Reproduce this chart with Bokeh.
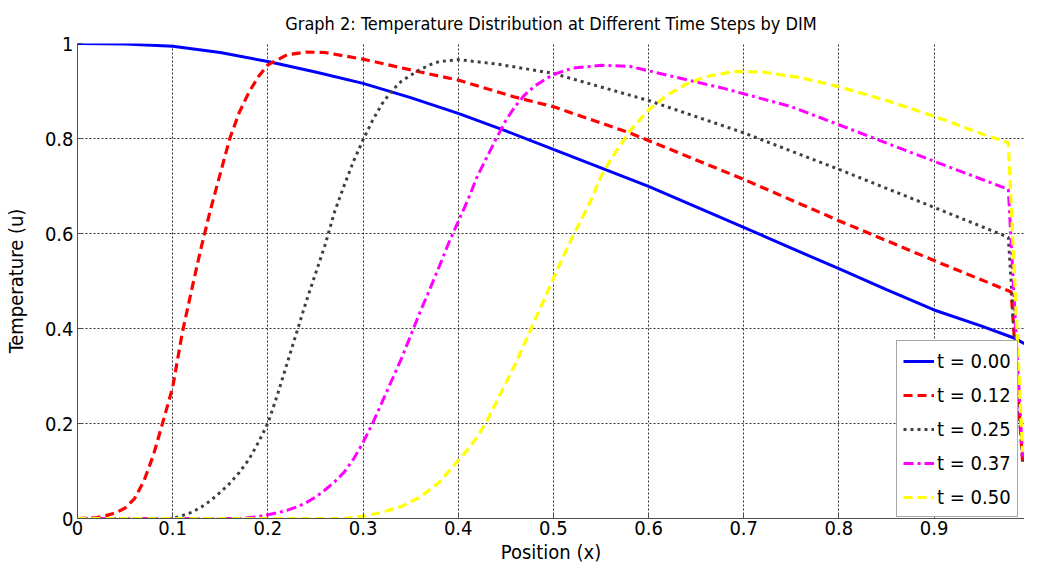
from bokeh.plotting import figure
from bokeh.models import Range1d, FixedTicker, Legend, LegendItem
from bokeh.embed import file_html
from bokeh.resources import INLINE

FONT = "'DejaVu Sans Condensed', 'Liberation Sans Narrow', sans-serif"

title_text = "Graph 2: Temperature Distribution at Different Time Steps by DIM"
x_label = "Position (x)"
y_label = "Temperature (u)"

series_labels = ["t = 0.00", "t = 0.12", "t = 0.25", "t = 0.37", "t = 0.50"]

x_t000 = [0, 0.05, 0.1, 0.15, 0.2, 0.25, 0.3, 0.35, 0.4, 0.45, 0.5, 0.55, 0.6, 0.65, 0.7,
          0.75, 0.8, 0.85, 0.9, 0.95, 0.984, 0.995]
u_t000 = [1.0, 0.999, 0.994, 0.981, 0.962, 0.94, 0.916, 0.886, 0.853, 0.816, 0.777, 0.738,
          0.699, 0.656, 0.613, 0.569, 0.526, 0.482, 0.439, 0.405, 0.38, 0.368]

x_t012 = [0, 0.02, 0.03, 0.04, 0.05, 0.06, 0.07, 0.08, 0.09, 0.1, 0.11, 0.12, 0.13, 0.14,
          0.15, 0.16, 0.17, 0.18, 0.19, 0.2, 0.22, 0.24, 0.26, 0.3, 0.36, 0.4, 0.46, 0.5,
          0.58, 0.7, 0.8, 0.9, 0.981, 0.993]
u_t012 = [0, 0.002, 0.006, 0.012, 0.022, 0.042, 0.08, 0.135, 0.205, 0.276, 0.39, 0.482,
          0.571, 0.652, 0.726, 0.80, 0.855, 0.897, 0.93, 0.955, 0.976, 0.982, 0.981, 0.967,
          0.94, 0.923, 0.887, 0.867, 0.812, 0.714, 0.627, 0.543, 0.477, 0.12]

x_t025 = [0, 0.1, 0.11, 0.12, 0.13, 0.14, 0.15, 0.16, 0.17, 0.18, 0.19, 0.2, 0.21, 0.22,
          0.23, 0.24, 0.25, 0.26, 0.27, 0.28, 0.29, 0.3, 0.31, 0.32, 0.33, 0.34, 0.35, 0.36,
          0.37, 0.38, 0.4, 0.44, 0.5, 0.6, 0.7, 0.8, 0.9, 0.978, 0.993]
u_t025 = [0, 0.0, 0.006, 0.013, 0.024, 0.038, 0.055, 0.074, 0.097, 0.124, 0.16, 0.2, 0.26,
          0.325, 0.39, 0.455, 0.515, 0.575, 0.645, 0.70, 0.752, 0.797, 0.838, 0.873, 0.9,
          0.92, 0.933, 0.945, 0.955, 0.962, 0.966, 0.957, 0.937, 0.88, 0.812, 0.735, 0.655,
          0.592, 0.12]

x_t037 = [0, 0.17, 0.19, 0.2, 0.21, 0.22, 0.23, 0.24, 0.25, 0.26, 0.27, 0.28, 0.29, 0.3,
          0.31, 0.32, 0.33, 0.34, 0.35, 0.36, 0.37, 0.38, 0.39, 0.4, 0.41, 0.42, 0.43, 0.44,
          0.45, 0.46, 0.47, 0.48, 0.5, 0.52, 0.55, 0.58, 0.62, 0.68, 0.75, 0.8, 0.9, 0.978,
          0.993]
u_t037 = [0, 0.0, 0.004, 0.008, 0.012, 0.017, 0.024, 0.033, 0.045, 0.06, 0.077, 0.097,
          0.125, 0.16, 0.2, 0.245, 0.29, 0.335, 0.385, 0.435, 0.482, 0.53, 0.58, 0.625, 0.67,
          0.72, 0.76, 0.8, 0.838, 0.868, 0.892, 0.91, 0.935, 0.948, 0.954, 0.952, 0.933,
          0.905, 0.867, 0.829, 0.752, 0.693, 0.13]

x_t050 = [0, 0.28, 0.3, 0.32, 0.34, 0.36, 0.38, 0.4, 0.41, 0.42, 0.43, 0.44, 0.45, 0.46,
          0.47, 0.48, 0.49, 0.5, 0.51, 0.52, 0.53, 0.54, 0.55, 0.56, 0.57, 0.58, 0.6, 0.62,
          0.64, 0.66, 0.69, 0.72, 0.76, 0.8, 0.85, 0.9, 0.95, 0.978, 0.993]
u_t050 = [0, 0, 0.005, 0.013, 0.025, 0.045, 0.076, 0.122, 0.145, 0.172, 0.205, 0.245,
          0.285, 0.325, 0.37, 0.415, 0.46, 0.505, 0.55, 0.592, 0.632, 0.672, 0.72, 0.755,
          0.785, 0.815, 0.86, 0.892, 0.915, 0.93, 0.941, 0.94, 0.928, 0.909, 0.88, 0.847,
          0.81, 0.791, 0.14]

x_ticks = [0, 0.1, 0.2, 0.3, 0.4, 0.5, 0.6, 0.7, 0.8, 0.9]
x_tick_labels = ["0", "0.1", "0.2", "0.3", "0.4", "0.5", "0.6", "0.7", "0.8", "0.9"]
y_ticks = [0, 0.2, 0.4, 0.6, 0.8, 1]
y_tick_labels = ["0", "0.2", "0.4", "0.6", "0.8", "1"]

p = figure(width=1024, height=566, output_backend="svg", toolbar_location=None,
           x_range=Range1d(0, 0.995), y_range=Range1d(0, 1),
           min_border=0, min_border_left=67, min_border_right=0, min_border_top=36,
           min_border_bottom=0, title=title_text)
p.outline_line_color = None
p.background_fill_color = "white"
p.border_fill_color = "white"

p.title.align = "center"
p.title.text_font = FONT
p.title.text_font_size = "18px"
p.title.text_font_style = "normal"
p.title.text_color = "black"
p.title.standoff = 20

for ax, ticks, labs in ((p.xaxis[0], x_ticks, x_tick_labels), (p.yaxis[0], y_ticks, y_tick_labels)):
    ax.ticker = FixedTicker(ticks=ticks)
    ax.major_label_overrides = {t: l for t, l in zip(ticks, labs)}
    ax.major_label_text_font = FONT
    ax.major_label_text_font_size = "20px"
    ax.major_label_text_color = "black"
    ax.axis_label_text_font = FONT
    ax.axis_label_text_font_size = "20px"
    ax.axis_label_text_font_style = "normal"
    ax.axis_label_text_color = "black"
    ax.axis_line_color = "#505050"
    ax.major_tick_line_color = "#505050"
    ax.major_tick_in = 5
    ax.major_tick_out = 0
    ax.minor_tick_line_color = None
    ax.major_label_standoff = 4

p.xaxis.axis_label = x_label
p.yaxis.axis_label = y_label
p.xaxis.major_label_standoff = 2
p.xaxis.axis_label_standoff = 2
p.yaxis.axis_label_standoff = 14

p.xgrid.ticker = FixedTicker(ticks=x_ticks)
p.ygrid.ticker = FixedTicker(ticks=y_ticks)
for g in (p.xgrid[0], p.ygrid[0]):
    g.grid_line_color = "#303030"
    g.grid_line_dash = "2 2"
    g.grid_line_width = 1

r0 = p.line(x_t000, u_t000, line_color="#0000ff", line_width=3)
r1 = p.line(x_t012, u_t012, line_color="#ff0000", line_width=3.2, line_dash="9 5")
r2 = p.line(x_t025, u_t025, line_color="#404040", line_width=3, line_dash="3 4")
r3 = p.line(x_t037, u_t037, line_color="#ff00ff", line_width=3, line_dash="10 4 3 4")
r4 = p.line(x_t050, u_t050, line_color="#ffff00", line_width=3.2, line_dash="9 5")

legend = Legend(items=[LegendItem(label=l, renderers=[r]) for l, r in
                       zip(series_labels, [r0, r1, r2, r3, r4])],
                location=(819, 1))
legend.label_text_font = FONT
legend.label_text_font_size = "20px"
legend.label_text_color = "black"
legend.glyph_width = 31
legend.glyph_height = 20
legend.label_height = 27
legend.label_standoff = 3
legend.spacing = 7
legend.padding = 6
legend.margin = 0
legend.border_line_color = "#505050"
legend.border_line_width = 1
legend.background_fill_color = "white"
legend.background_fill_alpha = 1.0
p.add_layout(legend)

open("out.html", "w").write(file_html(p, INLINE))
